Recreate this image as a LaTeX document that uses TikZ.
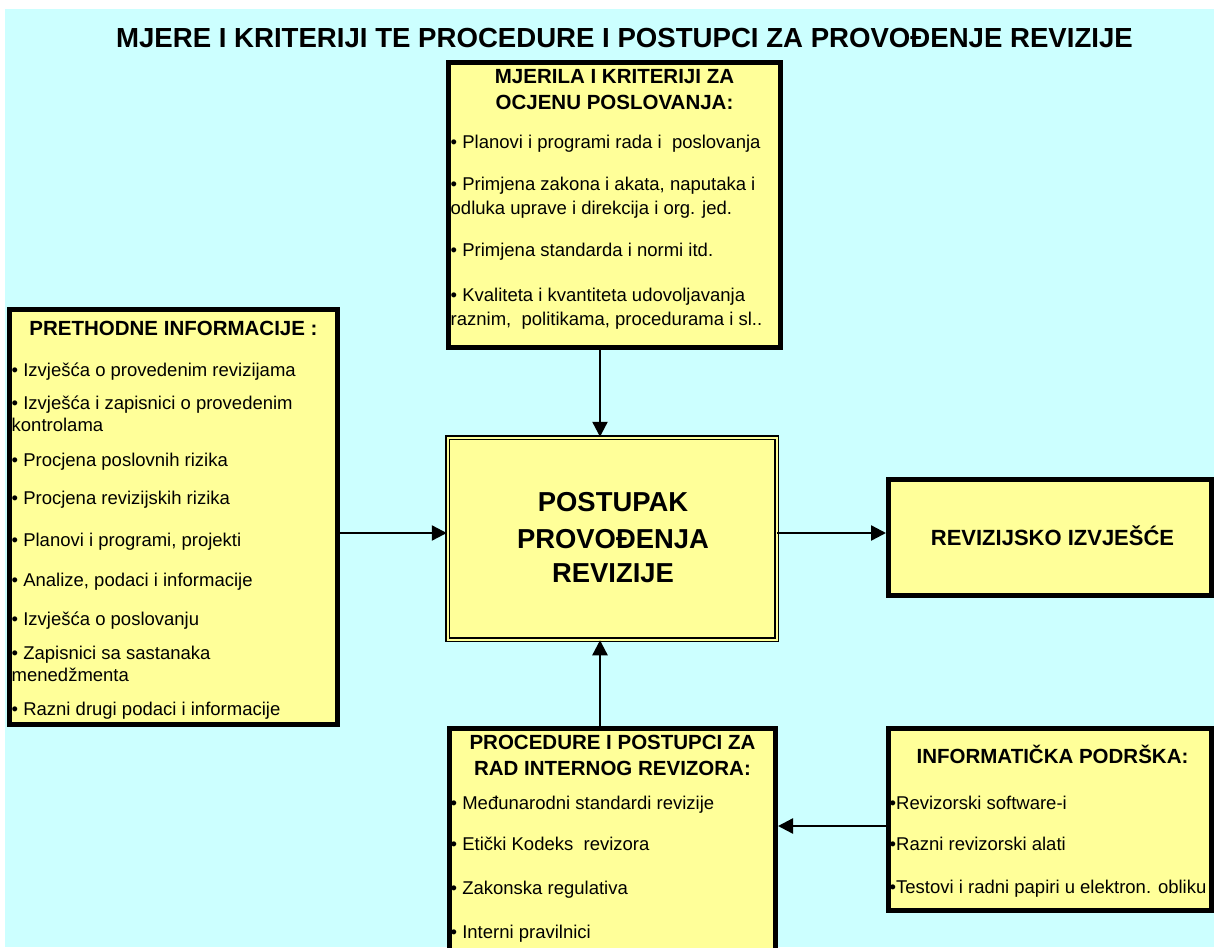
\documentclass[tikz,border=0pt]{standalone}
\usepackage{fontspec}
\setmainfont{Liberation Sans}
\usepackage{tikz}
\usetikzlibrary{arrows.meta, positioning}
\definecolor{bgcyan}{HTML}{CCFFFF}
\definecolor{boxyellow}{HTML}{FFFF99}

\tikzset{
  box/.style={draw=black, line width=5pt, fill=boxyellow, inner sep=0pt},
  hdr/.style={font=\fontsize{20.5}{24}\selectfont\bfseries, inner sep=0pt, anchor=base},
  item/.style={font=\fontsize{18.5}{22}\selectfont, inner sep=0pt, anchor=base west},
  big/.style={font=\fontsize{27.4}{33}\selectfont\bfseries, inner sep=0pt, anchor=base},
  arr/.style={line width=2.4pt, -{Triangle[length=15pt, width=15pt]}}
}

\begin{document}
\begin{tikzpicture}[x=1pt, y=-1pt]
\clip (0,0) rectangle (1214,947);
\fill[bgcyan] (5,9) rectangle (1214,947);

% Title
\node[anchor=base, inner sep=0pt, font=\fontsize{27.6}{32}\selectfont\bfseries] (title) at (624.5, 48) {MJERE I KRITERIJI TE PROCEDURE I POSTUPCI ZA PROVOĐENJE REVIZIJE};

% Boxes
\node[box, minimum width=332pt, minimum height=285pt] (mjerila) at (614.5, 205) {};
\node[box, minimum width=328pt, minimum height=415pt] (prethodne) at (173.5, 517) {};
\node[draw=black, line width=1.5pt, double=boxyellow, double distance=2pt, fill=boxyellow,
      inner sep=0pt, minimum width=329pt, minimum height=202pt] (postupak) at (612, 538.5) {};
\node[box, minimum width=323pt, minimum height=116pt] (izvjesce) at (1050, 537.5) {};
\node[box, minimum width=326pt, minimum height=251.5pt] (procedure) at (612.5, 854.25) {};
\node[box, minimum width=323pt, minimum height=182pt] (podrska) at (1050, 819.5) {};

% Texts of the top box
\node[hdr] (mj-h1) at (614.5, 83.3) {MJERILA I KRITERIJI ZA};
\node[hdr] (mj-h2) at (614.5, 110) {OCJENU POSLOVANJA:};
\foreach \y/\t [count=\i] in {148.3/{• Planovi i programi rada i~ poslovanja},
    190/{• Primjena zakona i akata, naputaka i}, 214.3/{odluka uprave i direkcija i org. jed.},
    256/{• Primjena standarda i normi itd.}, 301.7/{• Kvaliteta i kvantiteta udovoljavanja},
    325.7/{raznim,~ politikama, procedurama i sl..}}
  \node[item] (mj-\i) at (450.5, \y) {\t};

% Texts of the left box
\node[hdr] (pr-h) at (173.5, 335.7) {PRETHODNE INFORMACIJE :};
\foreach \y/\t [count=\i] in {376/{• Izvješća o provedenim revizijama},
    409.3/{• Izvješća i zapisnici o provedenim}, 431/{kontrolama},
    466/{• Procjena poslovnih rizika}, 504.3/{• Procjena revizijskih rizika},
    546/{• Planovi i programi, projekti}, 586/{• Analize, podaci i informacije},
    625/{• Izvješća o poslovanju}, 659.3/{• Zapisnici sa sastanaka},
    681.7/{menedžmenta}, 715/{• Razni drugi podaci i informacije}}
  \node[item] (pr-\i) at (11.5, \y) {\t};

% Centre and right box
\foreach \y/\t [count=\i] in {511.7/POSTUPAK, 548.3/PROVOĐENJA, 582.3/REVIZIJE}
  \node[big] (pp-\i) at (613, \y) {\t};
\node[anchor=base, inner sep=0pt, font=\fontsize{22}{26}\selectfont\bfseries] (iz-t) at (1052.5, 545) {REVIZIJSKO IZVJEŠĆE};

% Texts of the bottom boxes
\node[hdr] (pc-h1) at (612.5, 749.3) {PROCEDURE I POSTUPCI ZA};
\node[hdr] (pc-h2) at (612.5, 775) {RAD INTERNOG REVIZORA:};
\foreach \y/\t [count=\i] in {809.3/{• Međunarodni standardi revizije},
    850/{• Etički Kodeks~ revizora}, 894/{• Zakonska regulativa}, 938.3/{• Interni pravilnici}}
  \node[item] (pc-\i) at (450.5, \y) {\t};

\node[hdr] (ip-h) at (1052.5, 763.3) {INFORMATIČKA PODRŠKA:};
\foreach \y/\t [count=\i] in {809.3/{•Revizorski software-i}, 850/{•Razni revizorski alati},
    893.3/{•Testovi i radni papiri u elektron. obliku}}
  \node[item] (ip-\i) at (889.5, \y) {\t};

% Arrows
\coordinate (axis) at (600, 0);
\coordinate (midrow) at (0, 533);
\coordinate (lowrow) at (0, 826);
\draw[arr] (mjerila.south -| axis) -- (postupak.north -| axis);
\draw[arr] (procedure.north -| axis) -- (postupak.south -| axis);
\draw[arr] (prethodne.east |- midrow) -- (postupak.west |- midrow);
\draw[arr] (postupak.east |- midrow) -- (izvjesce.west |- midrow);
\draw[arr] (podrska.west |- lowrow) -- (procedure.east |- lowrow);

\end{tikzpicture}
\end{document}
